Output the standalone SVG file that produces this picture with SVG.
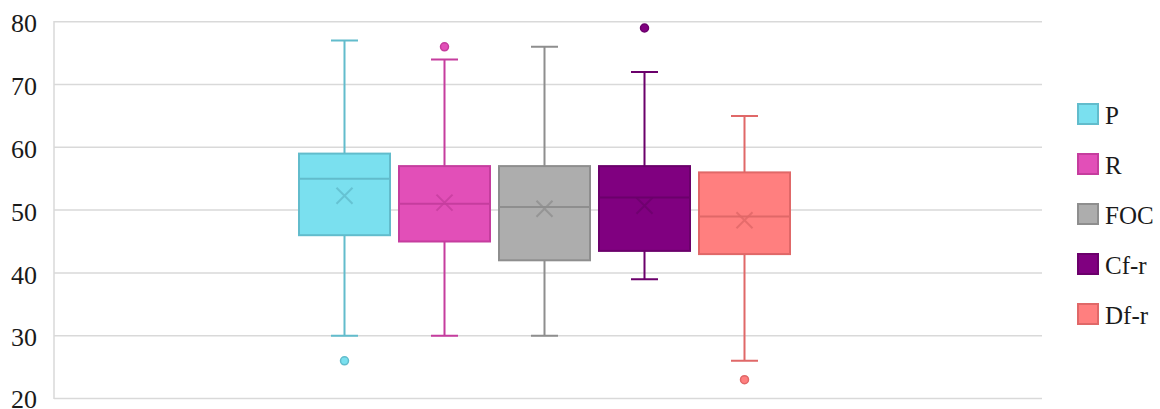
<svg xmlns="http://www.w3.org/2000/svg" width="1160" height="409" viewBox="0 0 1160 409">
<style>
.grid{stroke:#d9d9d9;stroke-width:1.5;fill:none}
text{font-family:'Liberation Serif',serif;fill:#1a1a1a}
.ax{font-size:26px;text-anchor:end}
.lg{font-size:25px}
.w{stroke-width:2;fill:none}
.box{stroke-width:2}
.mean{stroke-width:2;fill:none;stroke-opacity:0.8}
.p .box,.p .dot{fill:#7ae0ef;stroke:#62bccc}
.p .w,.p .mean{stroke:#62bccc}
.r .box,.r .dot{fill:#e24fb8;stroke:#c53d9e}
.r .w,.r .mean{stroke:#c53d9e}
.f .box,.f .dot{fill:#adadad;stroke:#8e8e8e}
.f .w,.f .mean{stroke:#8e8e8e}
.c .box,.c .dot{fill:#800080;stroke:#6b006b}
.c .w,.c .mean{stroke:#6b006b}
.d .box,.d .dot{fill:#ff7f7f;stroke:#e06868}
.d .w,.d .mean{stroke:#e06868}
</style>
<rect width="1160" height="409" fill="#ffffff"/>
<g id="grid">
<line class="grid" x1="54" y1="21.7" x2="1042" y2="21.7"/>
<line class="grid" x1="54" y1="84.5" x2="1042" y2="84.5"/>
<line class="grid" x1="54" y1="147.3" x2="1042" y2="147.3"/>
<line class="grid" x1="54" y1="210.1" x2="1042" y2="210.1"/>
<line class="grid" x1="54" y1="272.9" x2="1042" y2="272.9"/>
<line class="grid" x1="54" y1="335.7" x2="1042" y2="335.7"/>
<line class="grid" x1="54" y1="398.5" x2="1042" y2="398.5"/>
<line class="grid" x1="54" y1="21" x2="54" y2="399"/>
</g>
<g id="yaxis" font-family="Liberation Serif, serif">
<text class="ax" x="37" y="32.3">80</text>
<text class="ax" x="37" y="95.1">70</text>
<text class="ax" x="37" y="157.9">60</text>
<text class="ax" x="37" y="220.7">50</text>
<text class="ax" x="37" y="283.5">40</text>
<text class="ax" x="37" y="346.3">30</text>
<text class="ax" x="37" y="407.5">20</text>
</g>
<g id="connectors">
<g class="p"><path class="w" d="M344.5 40.5V153.6M344.5 235.2V335.7M331 40.5H358M331 335.7H358"/></g>
<g class="r"><path class="w" d="M444.5 59.4V166.1M444.5 241.5V335.7M431 59.4H458M431 335.7H458"/></g>
<g class="f"><path class="w" d="M544.5 46.8V166.1M544.5 260.3V335.7M531 46.8H558M531 335.7H558"/></g>
<g class="c"><path class="w" d="M644.5 71.9V166.1M644.5 250.9V279.2M631 71.9H658M631 279.2H658"/></g>
<g class="d"><path class="w" d="M744.5 115.9V172.4M744.5 254.1V360.8M731 115.9H758M731 360.8H758"/></g>
</g>
<g id="P" class="p">
<rect class="box" x="299" y="153.6" width="91" height="81.6"/>
<line class="w" x1="299" y1="178.7" x2="390" y2="178.7"/>
<path class="mean" d="M336.5 187.7l16 16M352.5 187.7l-16 16"/>
<circle class="dot" cx="344.5" cy="360.8" r="4" stroke-width="1.5"/>
</g>
<g id="R" class="r">
<rect class="box" x="399" y="166.1" width="91" height="75.4"/>
<line class="w" x1="399" y1="203.8" x2="490" y2="203.8"/>
<path class="mean" d="M436.5 194.6l16 16M452.5 194.6l-16 16"/>
<circle class="dot" cx="444.5" cy="46.8" r="4" stroke-width="1.5"/>
</g>
<g id="FOC" class="f">
<rect class="box" x="499" y="166.1" width="91" height="94.2"/>
<line class="w" x1="499" y1="207" x2="590" y2="207"/>
<path class="mean" d="M536.5 200.8l16 16M552.5 200.8l-16 16"/>
</g>
<g id="Cf-r" class="c">
<rect class="box" x="599" y="166.1" width="91" height="84.8"/>
<line class="w" x1="599" y1="197.5" x2="690" y2="197.5"/>
<path class="mean" d="M636.5 197.7l16 16M652.5 197.7l-16 16"/>
<circle class="dot" cx="644.5" cy="28" r="4" stroke-width="1.5"/>
</g>
<g id="Df-r" class="d">
<rect class="box" x="699" y="172.4" width="91" height="81.7"/>
<line class="w" x1="699" y1="216.4" x2="790" y2="216.4"/>
<path class="mean" d="M736.5 212.2l16 16M752.5 212.2l-16 16"/>
<circle class="dot" cx="744.5" cy="379.7" r="4" stroke-width="1.5"/>
</g>
<g id="legend">
<g class="p"><rect class="box" x="1078" y="104" width="20" height="20" stroke-width="1.5"/><text class="lg" x="1105" y="124">P</text></g>
<g class="r"><rect class="box" x="1078" y="154" width="20" height="20" stroke-width="1.5"/><text class="lg" x="1105" y="174">R</text></g>
<g class="f"><rect class="box" x="1078" y="204" width="20" height="20" stroke-width="1.5"/><text class="lg" x="1105" y="224">FOC</text></g>
<g class="c"><rect class="box" x="1078" y="254" width="20" height="20" stroke-width="1.5"/><text class="lg" x="1105" y="274">Cf-r</text></g>
<g class="d"><rect class="box" x="1078" y="304" width="20" height="20" stroke-width="1.5"/><text class="lg" x="1105" y="324">Df-r</text></g>
</g>
</svg>
